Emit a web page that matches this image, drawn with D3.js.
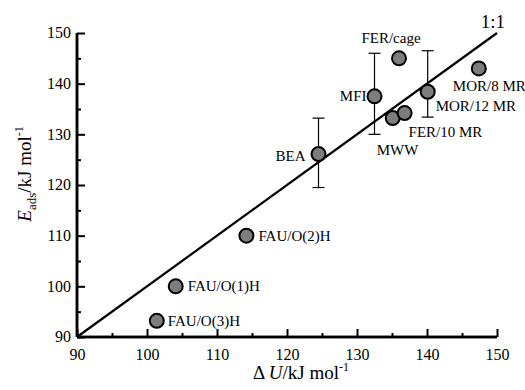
<!DOCTYPE html>
<html>
<head>
<meta charset="utf-8">
<script src="https://cdn.jsdelivr.net/npm/d3@7"></script>
<style>
  body { margin: 0; background: #fff; }
  svg text { font-family: "Liberation Serif", "Times New Roman", serif; fill: #000; }
</style>
</head>
<body>
<div id="chart"></div>
<script>
// zeolite labels, ΔU (x), Eads (y)
const names = ["FER/cage", "MFI", "MOR/12 MR", "MOR/8 MR", "MWW", "FER/10 MR", "BEA", "FAU/O(2)H", "FAU/O(1)H", "FAU/O(3)H"];
const dU = [136.0, 132.5, 140.1, 147.4, 135.1, 136.8, 124.5, 114.2, 104.1, 101.4];
const eAds = [145.0, 137.5, 138.4, 143.0, 133.2, 134.2, 126.1, 110.0, 100.0, 93.2];
// error bars: [low, high] or null
const errLow = [null, 130.0, 133.4, null, null, null, 119.5, null, null, null];
const errHigh = [null, 146.0, 146.5, null, null, null, 133.2, null, null, null];
// label offsets relative to point (px), anchor
const labelDx = [-8, -8, 8, -26, -16, 4, -13, 12, 12, 11];
const labelDy = [-15, 5, 19, 23, 37, 24, 7, 5, 5, 5];
const labelAnchor = ["middle", "end", "start", "start", "start", "start", "end", "start", "start", "start"];

const xTicks = [90, 100, 110, 120, 130, 140, 150];
const yTicks = [90, 100, 110, 120, 130, 140, 150];
const minorTicks = [95, 105, 115, 125, 135, 145];
const oneToOne = [90, 150];

const width = 525, height = 390;
const margin = { left: 77, right: 28, top: 33, bottom: 53 };

const svg = d3.select("#chart").append("svg")
    .attr("width", width)
    .attr("height", height);

const x = d3.scaleLinear().domain([90, 150]).range([margin.left, width - margin.right]);
const y = d3.scaleLinear().domain([90, 150]).range([height - margin.bottom, margin.top]);

// 1:1 line
svg.append("line")
    .attr("x1", x(oneToOne[0])).attr("y1", y(oneToOne[0]))
    .attr("x2", x(oneToOne[1])).attr("y2", y(oneToOne[1]))
    .attr("stroke", "#000").attr("stroke-width", 2.2);

svg.append("text")
    .attr("x", x(oneToOne[1]) + 8).attr("y", y(oneToOne[1]) - 5)
    .attr("text-anchor", "end")
    .style("font-size", "19px")
    .text("1:1");

// axes
const xAxis = svg.append("g")
    .attr("transform", `translate(0,${y(90)})`)
    .call(d3.axisBottom(x).tickValues(xTicks).tickSize(-8).tickPadding(12).tickFormat(d3.format("d")));
const xMinor = svg.append("g")
    .attr("transform", `translate(0,${y(90)})`)
    .call(d3.axisBottom(x).tickValues(minorTicks).tickSize(-4).tickFormat(""));
const yAxis = svg.append("g")
    .attr("transform", `translate(${x(90)},0)`)
    .call(d3.axisLeft(y).tickValues(yTicks).tickSize(-8).tickPadding(6).tickFormat(d3.format("d")));
const yMinor = svg.append("g")
    .attr("transform", `translate(${x(90)},0)`)
    .call(d3.axisLeft(y).tickValues(minorTicks).tickSize(-4).tickFormat(""));

[xAxis, xMinor, yAxis, yMinor].forEach(g => {
    g.select(".domain").attr("stroke", "#000").attr("stroke-width", 2.5)
        .attr("d", g === xAxis || g === xMinor
            ? `M${x(90)},0H${x(150)}`
            : `M0,${y(90)}V${y(150)}`);
    g.selectAll(".tick line").attr("stroke", "#000").attr("stroke-width", 2);
    g.selectAll(".tick text").style("font-size", "16px").style("font-family", "Liberation Serif, serif");
});
yAxis.selectAll(".tick text").attr("dy", "0.3em");

// error bars
const errIdx = d3.range(names.length).filter(i => errLow[i] !== null);
const eb = svg.selectAll(".err").data(errIdx).join("g").attr("class", "err")
    .attr("stroke", "#000").attr("stroke-width", 1.2);
eb.append("line")
    .attr("x1", i => x(dU[i])).attr("x2", i => x(dU[i]))
    .attr("y1", i => y(errLow[i])).attr("y2", i => y(errHigh[i]));
eb.append("line")
    .attr("x1", i => x(dU[i]) - 6).attr("x2", i => x(dU[i]) + 6)
    .attr("y1", i => y(errLow[i])).attr("y2", i => y(errLow[i]));
eb.append("line")
    .attr("x1", i => x(dU[i]) - 6).attr("x2", i => x(dU[i]) + 6)
    .attr("y1", i => y(errHigh[i])).attr("y2", i => y(errHigh[i]));

// points
svg.selectAll(".pt").data(d3.range(names.length)).join("circle")
    .attr("class", "pt")
    .attr("cx", i => x(dU[i])).attr("cy", i => y(eAds[i]))
    .attr("r", 7)
    .attr("fill", "#7d7d7d")
    .attr("stroke", "#000").attr("stroke-width", 2);

// point labels
svg.selectAll(".lbl").data(d3.range(names.length)).join("text")
    .attr("class", "lbl")
    .attr("x", i => x(dU[i]) + labelDx[i])
    .attr("y", i => y(eAds[i]) + labelDy[i])
    .attr("text-anchor", i => labelAnchor[i])
    .style("font-size", "15px")
    .text(i => names[i]);

// axis titles
const xt = svg.append("text")
    .attr("x", 301).attr("y", 379)
    .attr("text-anchor", "middle")
    .style("font-size", "19px");
xt.append("tspan").text("Δ ");
xt.append("tspan").style("font-style", "italic").text("U");
xt.append("tspan").text("/kJ mol");
xt.append("tspan").attr("dy", -8).style("font-size", "12px").text("-1");

const yt = svg.append("text")
    .attr("transform", `translate(31,174) rotate(-90)`)
    .attr("text-anchor", "middle")
    .style("font-size", "19px");
yt.append("tspan").style("font-style", "italic").text("E");
yt.append("tspan").attr("dy", 5).style("font-size", "13px").text("ads");
yt.append("tspan").attr("dy", -5).text("/kJ mol");
yt.append("tspan").attr("dy", -8).style("font-size", "12px").text("-1");
</script>
</body>
</html>
